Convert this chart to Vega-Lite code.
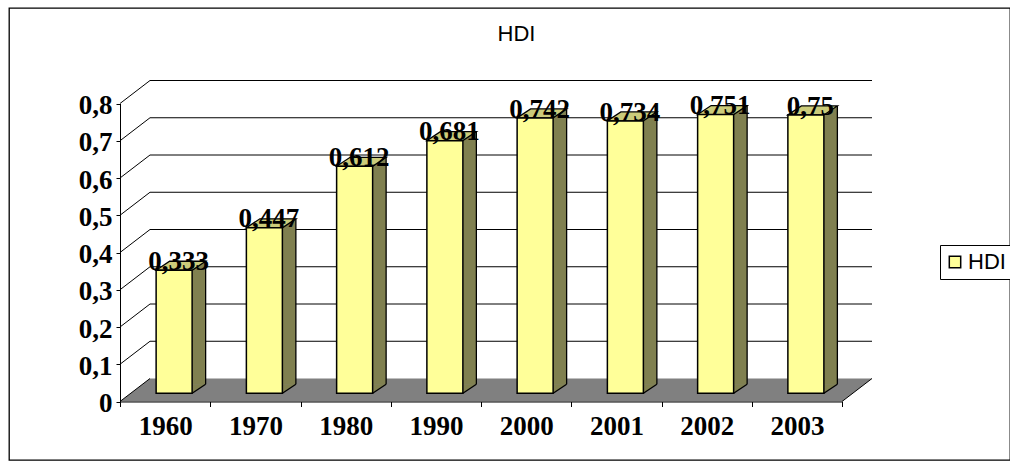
{
"$schema":"https://vega.github.io/schema/vega-lite/v6.json",
"autosize":{"type":"none"},
"padding":{"left":9,"top":8,"right":0,"bottom":2},
"width":1001,"height":452,
"background":"white",
"view":{"stroke":"#000","strokeWidth":1.3,"fill":"white"},
"title":{"text":"HDI","anchor":"middle","offset":-38,"dx":7,"font":"Liberation Sans","fontSize":22,"fontWeight":"normal","color":"#000"},
"datasets":{
"hdi":[
{"year":"1960","value":0.333,"label":"0,333","series":"HDI"},
{"year":"1970","value":0.447,"label":"0,447","series":"HDI"},
{"year":"1980","value":0.612,"label":"0,612","series":"HDI"},
{"year":"1990","value":0.681,"label":"0,681","series":"HDI"},
{"year":"2000","value":0.742,"label":"0,742","series":"HDI"},
{"year":"2001","value":0.734,"label":"0,734","series":"HDI"},
{"year":"2002","value":0.751,"label":"0,751","series":"HDI"},
{"year":"2003","value":0.75,"label":"0,75","series":"HDI"}],
"grid":[{"year":"1960","value":0.1},{"year":"1960","value":0.2},{"year":"1960","value":0.3},{"year":"1960","value":0.4},{"year":"1960","value":0.5},{"year":"1960","value":0.6},{"year":"1960","value":0.7},{"year":"1960","value":0.8}],
"floor":[{"year":"1960","value":0}]
},
"encoding":{
"x":{"field":"year","type":"nominal","scale":{"type":"band","domain":["1960","1970","1980","1990","2000","2001","2002","2003"],"range":[111,833],"padding":0},
 "axis":{"title":null,"orient":"bottom","offset":-58.5,"zindex":1,"labelAngle":0,"tickBand":"extent","tickSize":5,"tickColor":"#000","domainColor":"#000","labelFont":"Liberation Serif","labelFontWeight":"bold","labelFontSize":27,"labelColor":"#000","labelPadding":7}},
"y":{"field":"value","type":"quantitative","scale":{"domain":[0,0.8],"range":[393.5,95.5],"nice":false},
 "axis":{"title":null,"orient":"left","offset":-111,"zindex":1,"grid":false,"values":[0,0.1,0.2,0.3,0.4,0.5,0.6,0.7,0.8],"labelExpr":"datum.value==0?'0':replace(format(datum.value,'.1f'),'.',',')","tickSize":4,"tickColor":"#000","domainColor":"#000","labelFont":"Liberation Serif","labelFontWeight":"bold","labelFontSize":27,"labelColor":"#000","labelPadding":4,"labelOffset":2}}
},
"layer":[
{"data":{"name":"floor"},"mark":{"type":"point","shape":"M-45.125,0L676.875,0L706.875,-23L-15.125,-23Z","size":4,"filled":true,"fill":"#808080","strokeWidth":0,"opacity":1}},
{"data":{"name":"floor"},"mark":{"type":"point","shape":"M-45.125,0L-15.125,-23M676.875,0L706.875,-23","size":4,"filled":false,"stroke":"#000","strokeWidth":1,"opacity":1}},
{"data":{"name":"grid"},"mark":{"type":"point","shape":"M-45.125,0L-15.125,-23L706.875,-23","size":4,"filled":false,"stroke":"#000","strokeWidth":1,"opacity":1}},
{"data":{"name":"hdi"},"mark":{"type":"bar","size":13.5,"xOffset":33.75,"yOffset":-16.2,"y2Offset":-17.2,"fill":"#808050","stroke":null},"encoding":{"y2":{"datum":0}}},
{"data":{"name":"hdi"},"mark":{"type":"point","shape":"M27,-8.2L40.5,-17.2L27,-17.2Z","size":4,"filled":true,"fill":"#808050","strokeWidth":0,"opacity":1},"encoding":{"y":{"datum":0}}},
{"data":{"name":"hdi"},"mark":{"type":"point","shape":"M27,-8.2L40.5,-17.2","size":4,"filled":false,"stroke":"#000","strokeWidth":1.3,"opacity":1},"encoding":{"y":{"datum":0}}},
{"data":{"name":"hdi"},"mark":{"type":"rule","xOffset":40.5,"yOffset":-16.2,"y2Offset":-17.2,"stroke":"#000","strokeWidth":1.3},"encoding":{"y2":{"datum":0}}},
{"data":{"name":"hdi"},"mark":{"type":"point","shape":"M-9,-7.2L27,-7.2L40.5,-16.2L4.5,-16.2Z","size":4,"filled":true,"fill":"#CCCC7A","stroke":"#000","strokeWidth":1.3,"opacity":1}},
{"data":{"name":"hdi"},"mark":{"type":"bar","size":36,"xOffset":9,"yOffset":-7.2,"y2Offset":-8.2,"stroke":"#000","strokeWidth":1.5},
 "encoding":{"y2":{"datum":0},
 "color":{"field":"series","type":"nominal","scale":{"range":["#FFFF99"]},
 "legend":{"title":null,"orient":"none","legendX":931,"legendY":237,"padding":6,"strokeColor":"#000","fillColor":"#fff","symbolType":"square","symbolSize":130,"symbolOffset":-2,"symbolStrokeColor":"#000","symbolStrokeWidth":1.5,"symbolFillColor":"#FFFF99","labelFont":"Liberation Sans","labelFontSize":22,"labelColor":"#000","labelOffset":2}}}},
{"data":{"name":"hdi"},"mark":{"type":"text","align":"center","baseline":"alphabetic","xOffset":13.5,"yOffset":-7.5,"font":"Liberation Serif","fontWeight":"bold","fontSize":27,"fill":"#000"},"encoding":{"text":{"field":"label","type":"nominal"}}}
]
}
